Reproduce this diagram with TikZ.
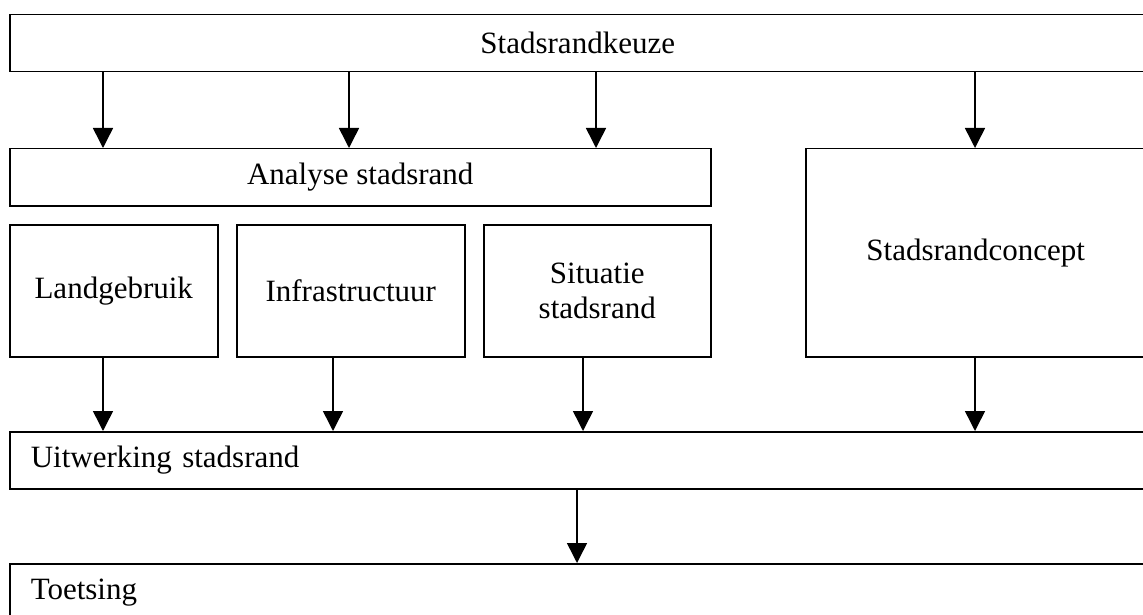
\documentclass[tikz,border=0pt]{standalone}
\usepackage{fontspec}
\setmainfont{Liberation Serif}
\usetikzlibrary{arrows.meta}
\begin{document}
\begin{tikzpicture}[x=1pt,y=-1pt,
  box/.style={draw,line width=1.5pt,rectangle,inner sep=0pt,anchor=north west,
    font=\fontsize{31}{35}\selectfont,align=center},
  arr/.style={line width=1.5pt,-{Triangle[width=20pt,length=20pt]}}]
\useasboundingbox (0,0) rectangle (1143,615);
\clip (0,0) rectangle (1143,615);
% boxes
\node[box,minimum width=1136pt,minimum height=57pt] (keuze) at (9,14) {Stadsrandkeuze};
\node[box,minimum width=701pt,minimum height=57pt] (analyse) at (9,148) {Analyse stadsrand};
\node[box,minimum width=208pt,minimum height=132pt] (land) at (9,224) {Landgebruik};
\node[box,minimum width=228pt,minimum height=132pt] (infra) at (236,224) {Infrastructuur};
\node[box,minimum width=227pt,minimum height=132pt] (situ) at (483,224) {Situatie\\stadsrand};
\node[box,minimum width=340pt,minimum height=208pt] (concept) at (805,148) {Stadsrandconcept};
\node[box,minimum width=1136pt,minimum height=57pt,align=left,text width=1094pt,inner xsep=21pt] (uitw) at (9,431) {Uitwerking stadsrand};
\node[box,minimum width=1136pt,minimum height=57pt,align=left,text width=1094pt,inner xsep=21pt] (toets) at (9,563) {Toetsing};
% arrow columns
\coordinate (a1) at (103,0);
\coordinate (a2) at (349,0);
\coordinate (a3) at (596,0);
\coordinate (a4) at (975,0);
\coordinate (b2) at (333,0);
\coordinate (b3) at (583,0);
\coordinate (c1) at (577,0);
% connectors
\draw[arr] (keuze.south -| a1) -- (analyse.north -| a1);
\draw[arr] (keuze.south -| a2) -- (analyse.north -| a2);
\draw[arr] (keuze.south -| a3) -- (analyse.north -| a3);
\draw[arr] (keuze.south -| a4) -- (concept.north -| a4);
\draw[arr] (land.south -| a1) -- (uitw.north -| a1);
\draw[arr] (infra.south -| b2) -- (uitw.north -| b2);
\draw[arr] (situ.south -| b3) -- (uitw.north -| b3);
\draw[arr] (concept.south -| a4) -- (uitw.north -| a4);
\draw[arr] (uitw.south -| c1) -- (toets.north -| c1);
\end{tikzpicture}
\end{document}
